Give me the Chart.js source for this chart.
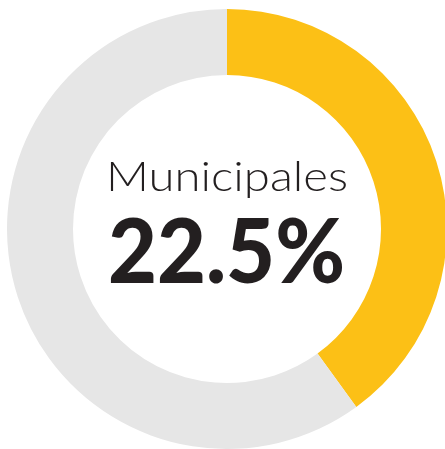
<!DOCTYPE html>
<html>
<head>
<meta charset="utf-8">
<script src="https://cdn.jsdelivr.net/npm/chart.js@4"></script>
<style>
  html, body { margin: 0; padding: 0; background: #fff; overflow: hidden; }
  body { width: 445px; height: 449px; position: relative; }
  .wrap { position: absolute; left: 7px; top: 8.5px; width: 440px; height: 440px; }
</style>
</head>
<body>
<div class="wrap"><canvas id="donut"></canvas></div>
<script>
const categories = ['Municipales', 'Resto'];
const shareValues = [40, 60];
const sliceColors = ['#FCC016', '#E6E6E6'];
const centerTitle = 'Municipales';
const centerValue = '22.5%';

// draws the two lines of text in the hole, stretched to the widths seen in the picture
const centerText = {
  id: 'centerText',
  afterDraw(chart) {
    const arc = chart.getDatasetMeta(0).data[0];
    if (!arc) return;
    const ctx = chart.ctx;
    const cx = arc.x, cy = arc.y;
    const lines = [
      { text: centerTitle, font: '300 42px Lato, "Open Sans", sans-serif', dy: -38.5, dx: 0, w: 242 },
      { text: centerValue, font: '900 89px Lato, "Open Sans", sans-serif', dy: 53.5, dx: -0.5, w: 237 }
    ];
    ctx.save();
    ctx.fillStyle = '#231F20';
    ctx.textAlign = 'center';
    ctx.textBaseline = 'alphabetic';
    lines.forEach(l => {
      ctx.font = l.font;
      const m = ctx.measureText(l.text).width;
      const sx = l.w / m;
      ctx.save();
      ctx.translate(cx + l.dx, cy + l.dy);
      ctx.scale(sx, 1);
      ctx.fillText(l.text, 0, 0);
      ctx.restore();
    });
    ctx.restore();
  }
};

new Chart(document.getElementById('donut'), {
  type: 'doughnut',
  data: {
    labels: categories,
    datasets: [{
      data: shareValues,
      backgroundColor: sliceColors,
      borderWidth: 0,
      hoverOffset: 0
    }]
  },
  options: {
    responsive: true,
    maintainAspectRatio: false,
    animation: false,
    cutout: '70%',
    layout: { padding: 0 },
    plugins: { legend: { display: false }, tooltip: { enabled: false } }
  },
  plugins: [centerText]
});
</script>
</body>
</html>
